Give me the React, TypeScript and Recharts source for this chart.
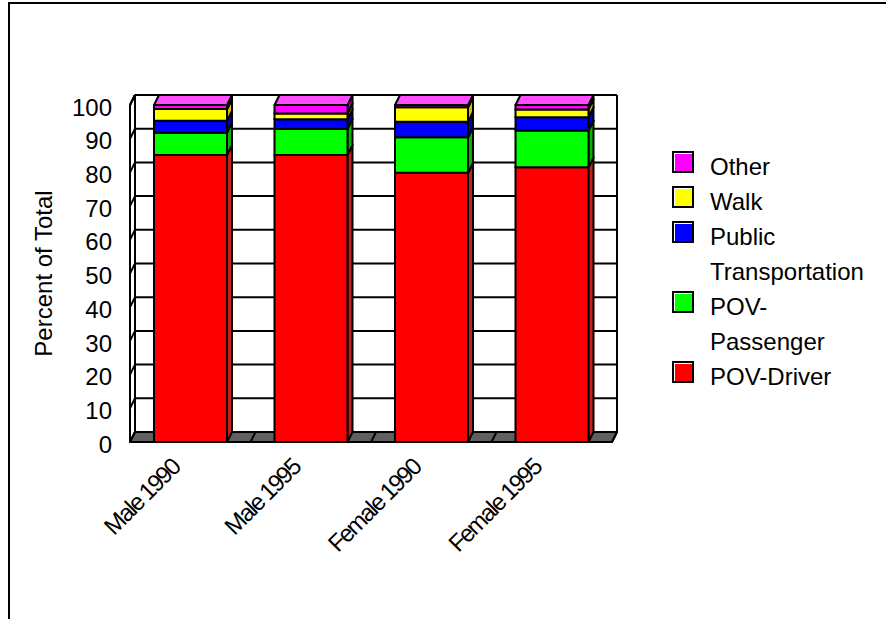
import React from "react";
import { BarChart, Bar, XAxis, YAxis, CartesianGrid, Legend } from "recharts";

const categories = ["Male 1990", "Male 1995", "Female 1990", "Female 1995"];
const povDriver = [85.2, 85.2, 79.9, 81.5];
const povPassenger = [6.6, 7.7, 10.5, 10.9];
const publicTransportation = [3.5, 2.9, 4.6, 4.0];
const walk = [3.5, 1.7, 4.3, 2.3];
const other = [1.2, 2.5, 0.7, 1.3];
const yTicks = [0, 10, 20, 30, 40, 50, 60, 70, 80, 90, 100];

const FONT = "'Liberation Sans', Arial, sans-serif";
const DX = 5;
const DY = 10;

// stacking order: bottom first
const series = [
  { key: "driver", name: "POV-Driver", values: povDriver, color: "#ff0000", side: "#c81e1e", top: "#ff4a4a" },
  { key: "passenger", name: "POV-Passenger", values: povPassenger, color: "#00ff00", side: "#00b400", top: "#4dff4d" },
  { key: "public", name: "Public Transportation", values: publicTransportation, color: "#0000ff", side: "#0000a8", top: "#4a4aff" },
  { key: "walk", name: "Walk", values: walk, color: "#ffff00", side: "#e6b400", top: "#ffff66" },
  { key: "other", name: "Other", values: other, color: "#ff00ff", side: "#b400b4", top: "#ff4dff" },
];

const data = categories.map((name, i) => {
  const row: Record<string, string | number> = { name };
  series.forEach((s) => {
    row[s.key] = s.values[i];
  });
  return row;
});

function Bar3D(props: any) {
  const { x, y, width, height, fill, side, top } = props;
  if (width == null || height == null) return null;
  const r = x + width;
  const b = y + height;
  return (
    <g stroke="#000" strokeWidth={2} strokeLinejoin="round">
      <polygon points={`${r},${b} ${r},${y} ${r + DX},${y - DY} ${r + DX},${b - DY}`} fill={side} />
      <polygon points={`${x},${y} ${x + DX},${y - DY} ${r + DX},${y - DY} ${r},${y}`} fill={top} />
      <rect x={x} y={y} width={width} height={height} fill={fill} />
    </g>
  );
}

// back wall, left wall and floor drawn from the grid lines
function WallLine(props: any) {
  const { x1, x2, y1, y, height, index } = props;
  const top = y;
  const bottom = y + height;
  const isBottom = Math.abs(y1 - bottom) < 0.5;
  const line = { stroke: "#000", strokeWidth: 2 };
  if (isBottom) {
    const n = categories.length;
    const step = (x2 - x1) / n;
    return (
      <g key={`wall-${index}`}>
        <line x1={x1 + DX} y1={top - DY} x2={x2 + DX} y2={top - DY} {...line} />
        <line x1={x1 + DX} y1={top - DY} x2={x1 + DX} y2={bottom - DY} {...line} />
        <line x1={x2 + DX} y1={top - DY} x2={x2 + DX} y2={bottom - DY} {...line} />
        <line x1={x1} y1={top} x2={x1} y2={bottom} {...line} />
        <line x1={x1} y1={top} x2={x1 + DX} y2={top - DY} {...line} />
        <polygon
          points={`${x1},${bottom} ${x2},${bottom} ${x2 + DX},${bottom - DY} ${x1 + DX},${bottom - DY}`}
          fill="#606060"
          {...line}
          strokeLinejoin="round"
        />
        {Array.from({ length: n + 1 }).map((_, i) => (
          <line
            key={i}
            x1={x1 + i * step}
            y1={bottom}
            x2={x1 + i * step + DX}
            y2={bottom - DY}
            {...line}
          />
        ))}
      </g>
    );
  }
  return (
    <g key={`wall-${index}`}>
      <line x1={x1 + DX} y1={y1 - DY} x2={x2 + DX} y2={y1 - DY} {...line} />
      <line x1={x1} y1={y1} x2={x1 + DX} y2={y1 - DY} {...line} />
    </g>
  );
}

function XTick(props: any) {
  const { x, y, payload } = props;
  const tx = x - 9;
  const ty = y + 27;
  return (
    <text
      x={tx}
      y={ty}
      transform={`rotate(-45 ${tx} ${ty})`}
      textAnchor="end"
      fontSize={24}
      letterSpacing={-1.9}
      fontFamily={FONT}
      fill="#000"
    >
      {payload.value}
    </text>
  );
}

function YTick(props: any) {
  const { x, y, payload } = props;
  return (
    <text x={x} y={y + 2} dy="0.36em" textAnchor="end" fontSize={24} fontFamily={FONT} fill="#000">
      {payload.value}
    </text>
  );
}

function YTitle(props: any) {
  const vb = props.viewBox || { x: 70, y: 105, width: 60, height: 337 };
  const cx = vb.x - 27;
  const cy = vb.y + vb.height / 2;
  return (
    <text
      x={cx}
      y={cy}
      transform={`rotate(-90 ${cx} ${cy})`}
      textAnchor="middle"
      dy="0.36em"
      fontSize={24}
      fontFamily={FONT}
      fill="#000"
    >
      Percent of Total
    </text>
  );
}

const renderLegend = () => (
  <div style={{ fontFamily: FONT, fontSize: 24, color: "#000" }}>
    {[...series].reverse().map((s) => (
      <div key={s.key} style={{ display: "flex", alignItems: "flex-start", lineHeight: "35px" }}>
        <span
          style={{
            width: 22,
            height: 22,
            boxSizing: "border-box",
            border: "2px solid #000",
            boxShadow: "inset 1px 1px 0 #fff",
            background: s.color,
            marginTop: 2,
            marginRight: 16,
            flex: "none",
          }}
        />
        <span style={{ width: 165 }}>{s.name}</span>
      </div>
    ))}
  </div>
);

export default function App() {
  return (
    <div style={{ position: "absolute", left: 0, top: 0, width: 886, height: 619, background: "#fff" }}>
      <div style={{ position: "absolute", left: 8, top: 2, width: 2, height: 617, background: "#000" }} />
      <div style={{ position: "absolute", left: 8, top: 2, width: 878, height: 2, background: "#000" }} />
      <BarChart
        width={886}
        height={619}
        data={data}
        margin={{ top: 105, right: 274, bottom: 117, left: 70 }}
        barSize={73}
        style={{ fontFamily: FONT }}
      >
        <CartesianGrid vertical={false} horizontal={WallLine as any} />
        <XAxis
          dataKey="name"
          height={60}
          axisLine={false}
          tickLine={false}
          tickSize={0}
          tickMargin={0}
          interval={0}
          tick={<XTick />}
        />
        <YAxis
          width={60}
          domain={[0, 100]}
          ticks={yTicks}
          interval={0}
          axisLine={false}
          tickLine={false}
          tickSize={0}
          tickMargin={18}
          tick={<YTick />}
          label={<YTitle />}
        />
        <Legend
          layout="vertical"
          align="center"
          verticalAlign="middle"
          content={renderLegend}
          wrapperStyle={{ left: 672, top: 149, width: 214, height: "auto" }}
        />
        {series.map((s) => (
          <Bar
            key={s.key}
            dataKey={s.key}
            name={s.name}
            stackId="a"
            fill={s.color}
            isAnimationActive={false}
            shape={(p: any) => <Bar3D {...p} side={s.side} top={s.top} />}
          />
        ))}
      </BarChart>
    </div>
  );
}
